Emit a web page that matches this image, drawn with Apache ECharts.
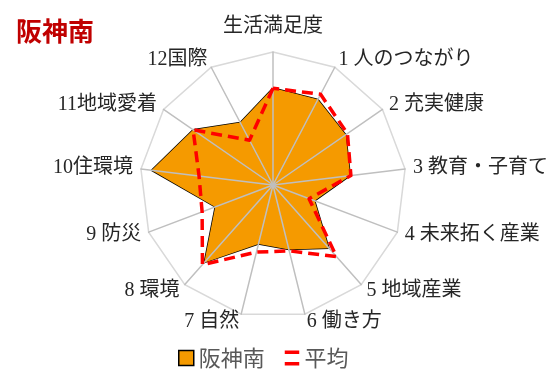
<!DOCTYPE html>
<html>
<head>
<meta charset="utf-8">
<script src="https://cdn.jsdelivr.net/npm/echarts@6/dist/echarts.min.js"></script>
<style>
  html, body { margin: 0; padding: 0; background: #fff; }
  #chart { width: 558px; height: 372px; }
</style>
</head>
<body>
<div id="chart"></div>
<script>
  // 指標名（上から時計回り）
  const indicatorNames = ['生活満足度', '1 人のつながり', '2 充実健康', '3 教育・子育て', '4 未来拓く産業',
    '5 地域産業', '6 働き方', '7 自然', '8 環境', '9 防災', '10住環境', '11地域愛着', '12国際'];
  // 阪神南
  const hanshinMinami = [73, 72.7, 66.5, 58.5, 33.5, 63.5, 50, 45.7, 78, 46.5, 92, 73, 53];
  // 平均
  const average = [72.7, 77, 68, 59, 29, 72, 51, 52, 80, 57, 56, 73, 38];
  const axisMax = 100;

  // echarts の radar は反時計回りなので、先頭以外を逆順にする
  const order = [0].concat(indicatorNames.map((_, i) => i).slice(1).reverse());
  const pick = arr => order.map(i => arr[i]);

  const myChart = echarts.init(document.getElementById('chart'));
  const option = {
    animation: false,
    title: {
      text: '阪神南',
      left: 11,
      top: 13,
      textStyle: {
        color: '#c00000',
        fontSize: 26,
        fontWeight: 'bold',
        fontFamily: 'Noto Sans CJK JP'
      }
    },
    legend: {
      bottom: -2,
      left: 173,
      itemGap: 20,
      itemWidth: 15,
      itemHeight: 15,
      textStyle: {
        color: '#595959',
        fontSize: 22,
        fontFamily: 'Noto Sans CJK JP'
      },
      data: [
        {
          name: '阪神南',
          icon: 'rect',
          itemStyle: { color: '#f59a00', borderColor: '#000', borderWidth: 1.5 }
        },
        {
          name: '平均',
          icon: 'path://M0,0H14V3.5H0Z M0,11H14V14.5H0Z',
          itemStyle: { color: '#ff0000', borderWidth: 0 }
        }
      ]
    },
    radar: {
      z: 3,
      center: [273, 185],
      radius: 133,
      startAngle: 90,
      splitNumber: 1,
      shape: 'polygon',
      nameGap: 8,
      indicator: pick(indicatorNames).map(n => ({ name: n, min: 0, max: axisMax })),
      axisName: {
        color: '#262626',
        fontSize: 20,
        fontFamily: '"Liberation Serif", "Noto Sans CJK JP"',
        formatter: (name) => name === indicatorNames[0] ? '{top|' + name + '}' : name,
        rich: {
          top: {
            fontSize: 20,
            fontFamily: '"Noto Sans CJK JP"',
            color: '#262626',
            padding: [0, 0, 10, 0]
          }
        }
      },
      axisLine: { lineStyle: { color: '#bfbfbf', width: 1.5 } },
      splitLine: { lineStyle: { color: '#d9d9d9', width: 1.5 } },
      splitArea: { show: false },
      axisTick: { show: false },
      axisLabel: { show: false }
    },
    series: [
      {
        name: '阪神南',
        type: 'radar',
        z: 2,
        symbol: 'none',
        itemStyle: { color: '#f59a00' },
        lineStyle: { color: '#000', width: 1.5 },
        areaStyle: { color: '#f59a00', opacity: 1 },
        data: [{ name: '阪神南', value: pick(hanshinMinami) }]
      },
      {
        name: '平均',
        type: 'radar',
        z: 4,
        symbol: 'none',
        itemStyle: { color: '#ff0000' },
        lineStyle: { color: '#ff0000', width: 3.5, type: [11, 6] },
        data: [{ name: '平均', value: pick(average) }]
      }
    ]
  };
  myChart.setOption(option);
</script>
</body>
</html>
